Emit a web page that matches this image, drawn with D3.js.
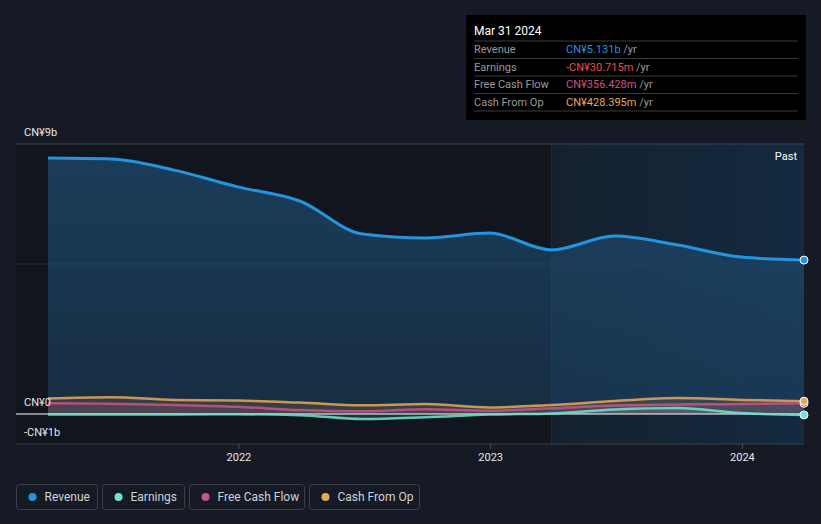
<!DOCTYPE html>
<html>
<head>
<meta charset="utf-8">
<script src="https://cdn.jsdelivr.net/npm/d3@7"></script>
<style>
	body { margin: 0; background: #151a24; }
	svg { display: block; font-family: Roboto, 'Open Sans', sans-serif; }
</style>
</head>
<body>
<svg id="chart" width="821" height="524"></svg>
<script>
// quarter ends, Mar 2021 .. Mar 2024
const dates = ['2021-03-31', '2021-06-30', '2021-09-30', '2021-12-31', '2022-03-31', '2022-06-30',
	'2022-09-30', '2022-12-31', '2023-03-31', '2023-06-30', '2023-09-30', '2023-12-31', '2024-03-31'];

// values in CN¥ billions
const revenue = [8.53, 8.5, 8.13, 7.57, 7.1, 6.0, 5.87, 6.03, 5.47, 5.93, 5.63, 5.23, 5.131];
const earnings = [-0.02, -0.02, -0.02, -0.01, -0.04, -0.17, -0.11, -0.02, 0.02, 0.15, 0.2, 0.03, -0.031];
const freeCashFlow = [0.36, 0.34, 0.3, 0.24, 0.13, 0.09, 0.16, 0.11, 0.19, 0.28, 0.32, 0.33, 0.356];
const cashFromOp = [0.52, 0.56, 0.47, 0.45, 0.38, 0.29, 0.33, 0.22, 0.3, 0.43, 0.53, 0.47, 0.428];

const yTicks = [{ v: 9, label: 'CN¥9b' }, { v: 0, label: 'CN¥0' }, { v: -1, label: '-CN¥1b' }];
const xTicks = ['2022-01-01', '2023-01-01', '2024-01-01'];

const series = [
	{ name: 'Revenue', values: revenue, color: '#2394df', tip: 'CN¥5.131b', tipColor: '#2394df' },
	{ name: 'Earnings', values: earnings, color: '#6ee5d3', tip: '-CN¥30.715m', tipColor: '#f04a4a' },
	{ name: 'Free Cash Flow', values: freeCashFlow, color: '#c9538c', tip: 'CN¥356.428m', tipColor: '#c9538c' },
	{ name: 'Cash From Op', values: cashFromOp, color: '#e6a955', tip: 'CN¥428.395m', tipColor: '#e6a955' }
];

// small attr-object helper
d3.selection.prototype.at = function(obj) {
	Object.keys(obj).forEach(k => this.attr(k, obj[k]));
	return this;
};

const parse = d3.timeParse('%Y-%m-%d');
const svg = d3.select('#chart');
const defs = svg.append('defs');

const plotL = 16, plotR = 804, plotT = 144, plotB = 444;
const x = d3.scaleTime().domain([parse(dates[0]), parse(dates[dates.length - 1])]).range([48, 804]);
const y = d3.scaleLinear().domain([-1, 9]).range([plotB, plotT]);

// plot background
svg.append('rect').at({ x: plotL, y: plotT, width: plotR - plotL, height: plotB - plotT, fill: '#11151d' });

const hg = defs.append('linearGradient').attr('id', 'past').attr('x1', 0).attr('x2', 1).attr('y1', 0).attr('y2', 0);
hg.append('stop').attr('offset', 0).attr('stop-color', '#15212f');
hg.append('stop').attr('offset', 1).attr('stop-color', '#132a40');
const pastX = x(parse('2023-03-31'));
svg.append('rect').at({ x: pastX, y: plotT, width: plotR - pastX, height: plotB - plotT, fill: 'url(#past)' });
svg.append('line').at({ x1: pastX, x2: pastX, y1: plotT, y2: plotB, stroke: '#1c2a3a', 'stroke-width': 1 });

// grid lines
svg.append('line').at({ x1: plotL, x2: plotR, y1: y(9), y2: y(9), stroke: '#3c414b' });
svg.append('line').at({ x1: plotL, x2: plotR, y1: y(5), y2: y(5), stroke: '#2b3540' });
svg.append('line').at({ x1: plotL, x2: plotR, y1: plotB, y2: plotB, stroke: '#3c414b' });

// revenue area gradient
const rg = defs.append('linearGradient').attr('id', 'revArea').attr('x1', 0).attr('x2', 0).attr('y1', 0).attr('y2', 1);
rg.append('stop').attr('offset', 0).attr('stop-color', '#1e4a6e').attr('stop-opacity', 0.75);
rg.append('stop').attr('offset', 1).attr('stop-color', '#1e4a6e').attr('stop-opacity', 0.45);

const pts = vals => vals.map((v, i) => ({ date: parse(dates[i]), v }));

const area = d3.area().x(d => x(d.date)).y0(y(0)).y1(d => y(d.v)).curve(d3.curveMonotoneX);
const line = d3.line().x(d => x(d.date)).y(d => y(d.v)).curve(d3.curveMonotoneX);

// areas
svg.append('path').datum(pts(revenue)).attr('d', area).attr('fill', 'url(#revArea)');
series.slice(1).forEach(s => {
	svg.append('path').datum(pts(s.values)).attr('d', area).at({ fill: s.color, 'fill-opacity': 0.15 });
});

// zero line
svg.append('line').at({ x1: plotL, x2: plotR, y1: y(0), y2: y(0), stroke: '#ffffff', 'stroke-width': 1.2 });

// lines, drawn small ones first
[...series].reverse().forEach(s => {
	svg.append('path').datum(pts(s.values)).attr('d', line).at({
		fill: 'none', stroke: s.color,
		'stroke-width': s.name === 'Revenue' ? 3 : 2.5,
		'stroke-opacity': s.name === 'Revenue' ? 1 : 0.85
	});
});

// end dots (cash from op ends up on top)
series.forEach(s => {
	svg.append('circle').at({
		cx: x(parse(dates[dates.length - 1])), cy: y(s.values[s.values.length - 1]), r: 4,
		fill: s.color, stroke: '#ffffff', 'stroke-width': 1
	});
});

// y labels
svg.selectAll('.ylab').data(yTicks).enter().append('text')
	.attr('x', 24).attr('y', d => y(d.v) - 8)
	.at({ fill: '#e6e6e6', 'font-size': 11 })
	.text(d => d.label);

// x axis
const xa = svg.append('g').attr('transform', `translate(0,${plotB})`)
	.call(d3.axisBottom(x).tickValues(xTicks.map(parse)).tickFormat(d3.timeFormat('%Y')).tickSize(5).tickPadding(4));
xa.select('.domain').remove();
xa.selectAll('line').attr('stroke', '#4a4f58');
xa.selectAll('text').attr('fill', '#e6e6e6').attr('font-size', 11).attr('font-family', 'Roboto, sans-serif');

svg.append('text').at({ x: 797, y: 160, 'text-anchor': 'end', fill: '#ffffff', 'font-size': 11 }).text('Past');

// tooltip box
const tip = svg.append('g').attr('transform', 'translate(466,15)');
tip.append('rect').at({ width: 340, height: 105, fill: '#000000' });
tip.append('text').at({ x: 8, y: 20, fill: '#ffffff', 'font-size': 12 }).text('Mar 31 2024');
series.forEach((s, i) => {
	const ry = 26 + i * 17.5;
	tip.append('line').at({ x1: 8, x2: 332, y1: ry, y2: ry, stroke: '#3a3a3a' });
	tip.append('text').at({ x: 8, y: ry + 12, fill: '#9a9a9a', 'font-size': 11 }).text(s.name);
	const t = tip.append('text').at({ x: 100, y: ry + 12, 'font-size': 11 });
	t.append('tspan').attr('fill', s.tipColor).text(s.tip);
	t.append('tspan').attr('fill', '#9a9a9a').text(' /yr');
});
tip.append('line').at({ x1: 8, x2: 332, y1: 96, y2: 96, stroke: '#3a3a3a' });

// legend
const legendX = [16, 102, 189, 309];
const legendW = [81, 82, 115, 110];
const lg = svg.append('g').attr('transform', 'translate(0,484)');
series.forEach((s, i) => {
	const g = lg.append('g').attr('transform', `translate(${legendX[i] + 0.5},0.5)`);
	g.append('rect').at({ width: legendW[i], height: 25, rx: 3, fill: 'none', stroke: '#3b404a' });
	g.append('circle').at({ cx: 16, cy: 12.5, r: 4, fill: s.color });
	g.append('text').at({ x: 28, y: 16.5, fill: '#cfd2d6', 'font-size': 12 }).text(s.name);
});
</script>
</body>
</html>
